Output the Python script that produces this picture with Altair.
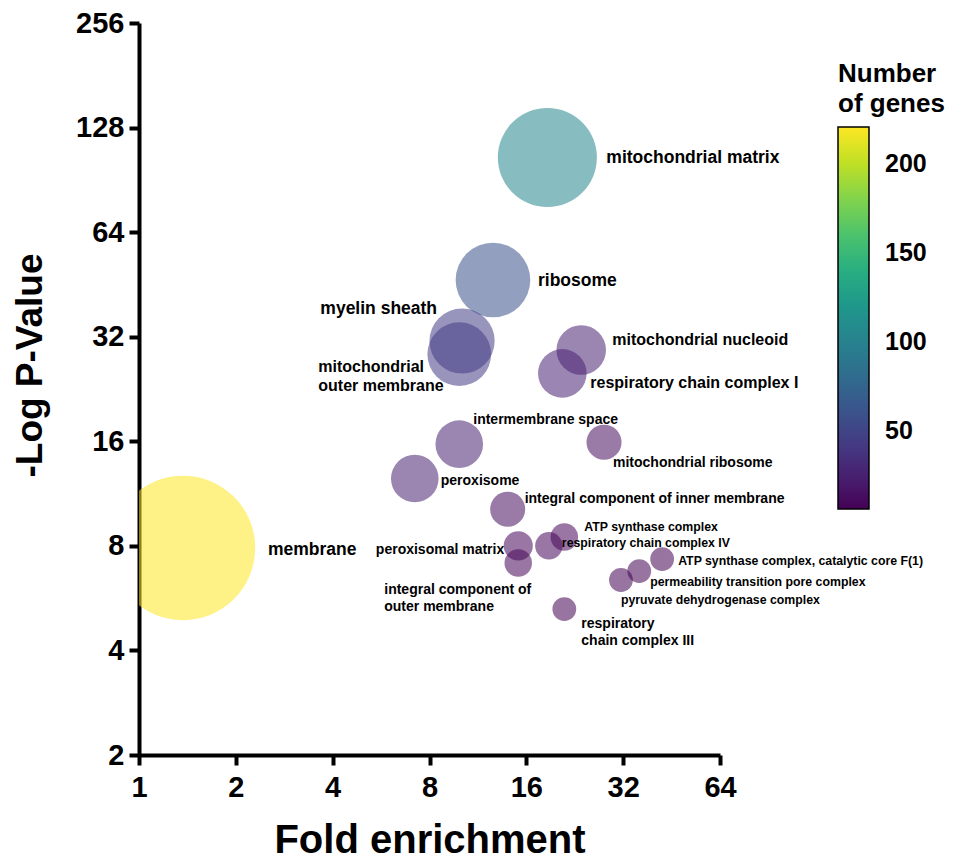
import altair as alt
import pandas as pd

FONT = "Liberation Sans"

# ---- data ----
terms = [
    "membrane", "mitochondrial matrix", "ribosome", "myelin sheath",
    "mitochondrial outer membrane", "mitochondrial nucleoid",
    "respiratory chain complex I", "intermembrane space", "peroxisome",
    "mitochondrial ribosome", "integral component of inner membrane",
    "peroxisomal matrix", "integral component of outer membrane",
    "respiratory chain complex IV", "ATP synthase complex",
    "ATP synthase complex, catalytic core F(1)",
    "permeability transition pore complex", "pyruvate dehydrogenase complex",
    "respiratory chain complex III",
]
fold = [1.37, 18.6, 12.6, 10.1, 9.9, 23.7, 20.7, 9.9, 7.2, 27.9, 14.0,
        15.1, 15.1, 18.8, 21.0, 42.3, 35.9, 31.5, 21.0]
neglogp = [7.89, 105.0, 46.6, 31.1, 28.5, 29.3, 25.1, 15.7, 12.5, 15.9, 10.2,
           8.0, 7.14, 8.0, 8.48, 7.33, 6.77, 6.38, 5.26]
genes = [221, 104, 59, 45, 43, 26, 25, 24, 24, 13, 13, 9, 8, 8, 8, 6, 6, 6, 6]
label_text = [
    "membrane", "mitochondrial matrix", "ribosome", "myelin sheath",
    "mitochondrial\nouter membrane", "mitochondrial nucleoid",
    "respiratory chain complex I", "intermembrane space", "peroxisome",
    "mitochondrial ribosome", "integral component of inner membrane",
    "peroxisomal matrix", "integral component of\nouter membrane",
    "respiratory chain complex IV", "ATP synthase complex",
    "ATP synthase complex, catalytic core F(1)",
    "permeability transition pore complex", "pyruvate dehydrogenase complex",
    "respiratory\nchain complex III",
]
x_ticks = [1, 2, 4, 8, 16, 32, 64]
y_ticks = [2, 4, 8, 16, 32, 64, 128, 256]
legend_ticks = [50, 100, 150, 200]

# label placement styles: (align, baseline, dx, dy, fontSize, lineHeight)
label_style = [
    ("left", "middle", 85, 2, 17.5, 20),
    ("left", "middle", 59, 1, 17.5, 20),
    ("left", "middle", 45, 1, 17.5, 20),
    ("right", "middle", -25, -32, 17.5, 20),
    ("left", "top", -141, 5, 16, 19),
    ("left", "middle", 31, -10, 16, 19),
    ("left", "middle", 28, 10, 16, 19),
    ("left", "middle", 14, -24, 14, 17),
    ("left", "middle", 26, 2, 14, 17),
    ("left", "middle", 9, 21, 14, 17),
    ("left", "middle", 17, -10, 14, 17),
    ("right", "middle", -14, 4, 14, 17),
    ("left", "top", -134, 20, 14, 17),
    ("left", "middle", 13, -3, 12.3, 15),
    ("left", "middle", 20, -10, 12.3, 15),
    ("left", "middle", 16, 2, 12.3, 15),
    ("left", "middle", 11, 11, 12.3, 15),
    ("left", "middle", 0, 20, 12.3, 15),
    ("left", "top", 17, 8, 14, 17),
]

df = pd.DataFrame({"term": terms, "fold": fold, "logp": neglogp,
                   "genes": genes, "label": label_text})

xscale = alt.Scale(type="log", base=2, domain=[1, 64], nice=False)
yscale = alt.Scale(type="log", base=2, domain=[2, 256], nice=False)

x_axis = alt.Axis(values=x_ticks, format="d", title="Fold enrichment",
                  titleFont=FONT, titleFontSize=40, titleFontWeight="bold",
                  titleColor="black", titlePadding=18,
                  labelFont=FONT, labelFontSize=29, labelFontWeight="bold",
                  labelColor="black", labelPadding=8, labelFlush=False,
                  labelOverlap=False, tickSize=10, tickWidth=4,
                  tickColor="black", domainWidth=4, domainColor="black",
                  grid=False)
y_axis = alt.Axis(values=y_ticks, format="d", title="-Log P-Value",
                  titleFont=FONT, titleFontSize=37, titleFontWeight="bold",
                  titleColor="black", titlePadding=26, titleY=342,
                  labelFont=FONT, labelFontSize=29, labelFontWeight="bold",
                  labelColor="black", labelPadding=5, labelFlush=False,
                  labelOverlap=False, tickSize=10, tickWidth=4,
                  tickColor="black", domainWidth=4, domainColor="black",
                  grid=False)

X = alt.X("fold:Q", scale=xscale, axis=x_axis)
Y = alt.Y("logp:Q", scale=yscale, axis=y_axis)

bubbles = alt.Chart(df).mark_circle(opacity=1, fillOpacity=0.55, clip=True).encode(
    x=X, y=Y,
    size=alt.Size("genes:Q", scale=alt.Scale(domain=[0, 221], range=[0, 20867]),
                  legend=None),
    color=alt.Color("genes:Q",
                    scale=alt.Scale(scheme="viridis", domain=[6, 221]),
                    legend=alt.Legend(
                        title=["Number", "of genes"], orient="none",
                        legendX=699, legendY=38, direction="vertical",
                        gradientLength=382, gradientThickness=31,
                        gradientStrokeColor="black", gradientStrokeWidth=1.5,
                        values=legend_ticks, labelFont=FONT, labelFontSize=25,
                        labelFontWeight="bold", labelColor="black",
                        labelOffset=16, labelOverlap=False,
                        titleFont=FONT, titleFontSize=26,
                        titleFontWeight="bold", titleColor="black",
                        titleAlign="left", titleAnchor="start",
                        titlePadding=10, titleLineHeight=30, titleLimit=300)),
)

layers = [bubbles]
for t, (align, base, dx, dy, fs, lh) in zip(terms, label_style):
    layers.append(
        alt.Chart(df).transform_filter(alt.datum.term == t).mark_text(
            align=align, baseline=base, dx=dx, dy=dy, fontSize=fs,
            lineHeight=lh, lineBreak="\n", font=FONT, fontWeight="bold",
            color="black",
        ).encode(x=X, y=Y, text="label:N")
    )

chart = alt.layer(*layers).properties(
    width=581, height=732,
    padding={"left": 3, "top": 1, "right": 5, "bottom": 0},
).configure_view(stroke=None)

chart.save("out.html", embed_options={"renderer": "svg", "actions": False})
